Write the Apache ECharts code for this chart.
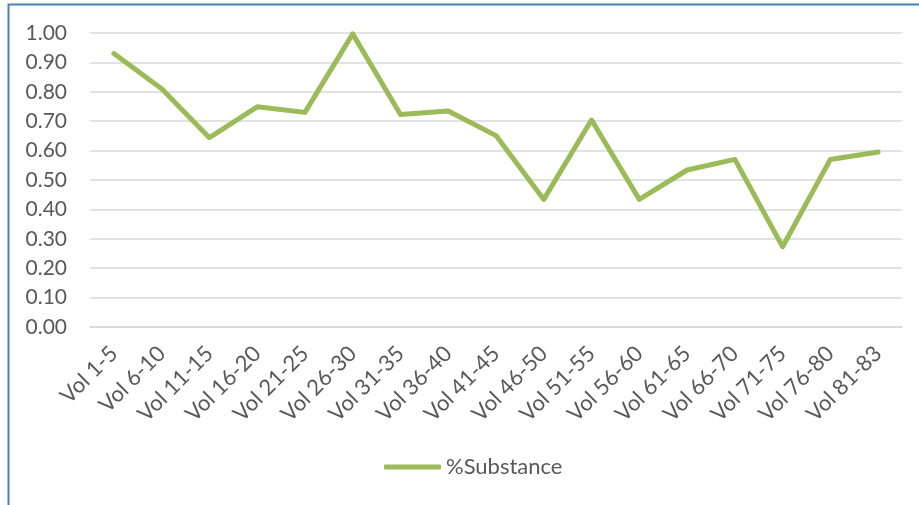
<!DOCTYPE html>
<html>
<head>
<meta charset="utf-8">
<script src="https://cdn.jsdelivr.net/npm/echarts@6/dist/echarts.min.js"></script>
<style>
  html, body { margin: 0; padding: 0; background: #fff; }
  #chart { width: 919px; height: 505px; }
</style>
</head>
<body>
<div id="chart"></div>
<script>
var categories = ['Vol 1-5', 'Vol 6-10', 'Vol 11-15', 'Vol 16-20', 'Vol 21-25', 'Vol 26-30',
  'Vol 31-35', 'Vol 36-40', 'Vol 41-45', 'Vol 46-50', 'Vol 51-55', 'Vol 56-60',
  'Vol 61-65', 'Vol 66-70', 'Vol 71-75', 'Vol 76-80', 'Vol 81-83'];
var substance = [0.93, 0.81, 0.644, 0.749, 0.73, 0.997, 0.723, 0.735, 0.651,
  0.434, 0.704, 0.434, 0.534, 0.57, 0.273, 0.57, 0.595];
var seriesName = '%Substance';

var font = 'Lato, "Open Sans", sans-serif';
var myChart = echarts.init(document.getElementById('chart'));

var option = {
  animation: false,
  backgroundColor: '#ffffff',
  graphic: [{
    type: 'rect',
    shape: { x: 8.5, y: 4.5, width: 1000, height: 600 },
    style: { fill: 'none', stroke: '#4A7EBB', lineWidth: 2 },
    silent: true
  }],
  grid: { left: 90, right: 17, top: 33, bottom: 178, containLabel: false },
  legend: {
    data: [seriesName],
    bottom: 22,
    left: 379,
    itemWidth: 57,
    itemHeight: 5,
    itemGap: 5,
    icon: 'roundRect',
    textStyle: { color: '#595959', fontSize: 22, fontFamily: font }
  },
  xAxis: {
    type: 'category',
    data: categories,
    boundaryGap: true,
    axisLine: { show: true, lineStyle: { color: '#D9D9D9', width: 1.5 } },
    axisTick: { show: false },
    axisLabel: {
      rotate: 45,
      margin: 23,
      color: '#595959',
      fontSize: 22,
      fontFamily: font,
      interval: 0
    }
  },
  yAxis: {
    type: 'value',
    min: 0,
    max: 1,
    interval: 0.1,
    axisLine: { show: false },
    axisTick: { show: false },
    splitLine: { lineStyle: { color: '#D9D9D9', width: 1.5 } },
    axisLabel: {
      margin: 23,
      color: '#595959',
      fontSize: 21,
      fontFamily: font,
      formatter: function (v) { return v.toFixed(2); }
    }
  },
  series: [{
    name: seriesName,
    type: 'line',
    data: substance,
    symbol: 'none',
    lineStyle: { color: '#9BBB59', width: 5, cap: 'round', join: 'round' },
    itemStyle: { color: '#9BBB59' }
  }]
};

myChart.setOption(option);
</script>
</body>
</html>
